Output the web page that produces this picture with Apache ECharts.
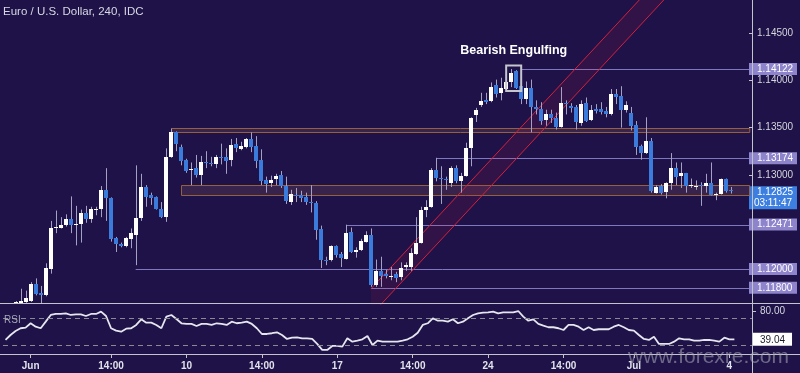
<!DOCTYPE html>
<html><head><meta charset="utf-8">
<script src="https://cdn.jsdelivr.net/npm/echarts@6/dist/echarts.min.js"></script>
<style>html,body{margin:0;padding:0;background:#1e1248;}#c{width:800px;height:373px;}</style>
</head><body><div id="c"></div>
<script>
// ---- data ----
const titleText = 'Euro / U.S. Dollar, 240, IDC';
const annotationText = 'Bearish Engulfing';
const watermarkText = 'www.forexre.com';
const countdown = '03:11:47';

const opens = [1.1158,1.1155,
1.1163,1.1162,1.1165,1.1166,1.1184,1.1174,1.1172,1.1200,1.1244,1.1244,
1.1247,1.1253,1.1247,1.1248,1.1259,1.1253,1.1264,1.1264,1.1284,1.1275,
1.1233,1.1227,1.1224,1.1232,1.1236,1.1254,1.1287,1.1278,1.1276,1.1264,
1.1255,1.1319,1.1345,1.1329,1.1316,1.1305,1.1307,1.1300,1.1314,1.1313,
1.1311,1.1319,1.1319,1.1316,1.1333,1.1327,1.1329,1.1338,1.1330,1.1316,
1.1294,1.1291,1.1296,1.1300,1.1288,1.1271,1.1279,1.1278,1.1276,1.1271,
1.1270,1.1242,1.1210,1.1209,1.1224,1.1216,1.1211,1.1239,1.1218,1.1220,
1.1229,1.1236,1.1183,1.1198,1.1195,1.1193,1.1195,1.1191,1.1202,1.1202,
1.1216,1.1228,1.1263,1.1266,1.1305,1.1297,1.1296,1.1291,1.1307,1.1293,
1.1299,1.1328,1.1363,1.1374,1.1379,1.1378,1.1395,1.1387,1.1391,1.1398,
1.1410,1.1394,1.1380,1.1392,1.1372,1.1370,1.1358,1.1364,1.1360,1.1351,
1.1376,1.1373,1.1372,1.1355,1.1376,1.1358,1.1370,1.1370,1.1368,1.1364,
1.1386,1.1384,1.1369,1.1366,1.1353,1.1330,1.1323,1.1336,1.1281,1.1288,
1.1282,1.1291,1.1307,1.1299,1.1302,1.1289,1.1288,1.1289,1.1288,1.1291,
1.1280,1.1280,1.1295,1.1284];
const closes = [1.1155,1.1160,
1.1165,1.1166,1.1169,1.1184,1.1173,1.1172,1.1201,1.1244,1.1245,1.1247,
1.1253,1.1247,1.1248,1.1259,1.1253,1.1264,1.1264,1.1284,1.1275,1.1232,
1.1226,1.1224,1.1233,1.1238,1.1254,1.1287,1.1276,1.1275,1.1264,1.1255,
1.1319,1.1345,1.1333,1.1315,1.1304,1.1306,1.1300,1.1314,1.1313,1.1311,
1.1319,1.1318,1.1315,1.1332,1.1328,1.1330,1.1338,1.1329,1.1315,1.1293,
1.1290,1.1294,1.1299,1.1288,1.1272,1.1280,1.1277,1.1275,1.1271,1.1270,
1.1241,1.1209,1.1208,1.1224,1.1215,1.1212,1.1238,1.1218,1.1220,1.1230,
1.1236,1.1183,1.1198,1.1193,1.1192,1.1193,1.1190,1.1201,1.1204,1.1217,
1.1228,1.1263,1.1266,1.1305,1.1297,1.1295,1.1294,1.1307,1.1293,1.1299,
1.1328,1.1360,1.1369,1.1378,1.1377,1.1393,1.1386,1.1392,1.1398,1.1408,
1.1392,1.1380,1.1392,1.1372,1.1370,1.1357,1.1364,1.1360,1.1351,1.1376,
1.1375,1.1371,1.1356,1.1375,1.1357,1.1369,1.1368,1.1367,1.1364,1.1386,
1.1383,1.1369,1.1374,1.1352,1.1329,1.1323,1.1336,1.1283,1.1287,1.1281,
1.1291,1.1307,1.1298,1.1302,1.1288,1.1289,1.1288,1.1288,1.1291,1.1279,
1.1280,1.1295,1.1283,1.12825];
const lows = [1.1150,1.1152,
1.1162,1.1161,1.1164,1.1165,1.1172,1.1163,1.1171,1.1195,1.1238,1.1243,
1.1245,1.1238,1.1225,1.1228,1.1249,1.1249,1.1257,1.1255,1.1251,1.1229,
1.1218,1.1223,1.1223,1.1222,1.1204,1.1251,1.1266,1.1268,1.1263,1.1254,
1.1250,1.1318,1.1325,1.1310,1.1302,1.1289,1.1297,1.1289,1.1307,1.1309,
1.1307,1.1311,1.1301,1.1309,1.1324,1.1326,1.1328,1.1324,1.1307,1.1289,
1.1281,1.1287,1.1289,1.1286,1.1269,1.1268,1.1271,1.1271,1.1268,1.1260,
1.1231,1.1201,1.1204,1.1208,1.1212,1.1202,1.1210,1.1217,1.1212,1.1219,
1.1228,1.1181,1.1181,1.1181,1.1190,1.1188,1.1186,1.1188,1.1198,1.1198,
1.1215,1.1227,1.1255,1.1265,1.1293,1.1269,1.1284,1.1287,1.1291,1.1281,
1.1298,1.1309,1.1356,1.1372,1.1375,1.1377,1.1382,1.1379,1.1390,1.1393,
1.1391,1.1375,1.1375,1.1345,1.1364,1.1353,1.1352,1.1355,1.1348,1.1350,
1.1364,1.1366,1.1348,1.1352,1.1356,1.1357,1.1365,1.1364,1.1361,1.1363,
1.1375,1.1350,1.1366,1.1347,1.1321,1.1316,1.1322,1.1281,1.1280,1.1279,
1.1275,1.1284,1.1289,1.1286,1.1281,1.1286,1.1284,1.1267,1.1281,1.1278,
1.1273,1.1279,1.1281,1.1280];
const highs = [1.1161,1.1162,
1.1166,1.1179,1.1177,1.1186,1.1190,1.1182,1.1206,1.1251,1.1262,1.1255,
1.1258,1.1277,1.1267,1.1263,1.1267,1.1266,1.1266,1.1288,1.1307,1.1276,
1.1234,1.1228,1.1234,1.1243,1.1310,1.1301,1.1289,1.1281,1.1277,1.1271,
1.1328,1.1349,1.1346,1.1332,1.1317,1.1313,1.1321,1.1320,1.1325,1.1319,
1.1321,1.1333,1.1328,1.1338,1.1339,1.1335,1.1339,1.1345,1.1341,1.1327,
1.1298,1.1299,1.1301,1.1304,1.1298,1.1284,1.1286,1.1283,1.1281,1.1289,
1.1272,1.1246,1.1213,1.1225,1.1225,1.1218,1.1247,1.1244,1.1223,1.1232,
1.1240,1.1243,1.1210,1.1213,1.1199,1.1202,1.1197,1.1207,1.1207,1.1222,
1.1255,1.1266,1.1273,1.1307,1.1318,1.1309,1.1298,1.1309,1.1310,1.1302,
1.1334,1.1361,1.1371,1.1387,1.1387,1.1398,1.1401,1.1403,1.1401,1.14122,
1.1411,1.1395,1.1399,1.1401,1.1379,1.1377,1.1369,1.1369,1.1366,1.1393,
1.1379,1.1376,1.1374,1.1379,1.1382,1.1374,1.1375,1.1377,1.1372,1.1391,
1.1391,1.1394,1.1378,1.1372,1.1357,1.1332,1.1361,1.1339,1.1289,1.1290,
1.1292,1.1323,1.1313,1.1313,1.1302,1.1296,1.1294,1.1292,1.1301,1.1313,
1.1281,1.1296,1.1296,1.1287];
const rsi = [
38.0,45.4,51.4,55.4,56.3,62.8,57.7,55.4,65.2,75.1,
76.6,76.6,77.6,75.1,76.1,76.1,73.6,76.6,76.6,80.0,
73.6,55.4,51.8,50.3,54.8,55.4,60.3,68.7,63.7,63.7,
60.3,55.4,72.6,75.1,69.2,62.8,61.8,61.8,58.8,61.8,
61.8,60.3,62.8,61.8,60.3,65.2,62.8,63.7,65.2,61.8,
55.4,46.9,46.9,48.0,49.4,45.4,39.5,41.4,42.0,40.5,
40.5,39.5,32.1,23.2,23.2,29.1,29.1,28.1,40.5,35.5,
37.0,39.0,43.9,30.6,37.0,35.5,35.5,35.5,35.5,37.0,
39.0,42.9,48.8,60.3,62.8,70.2,66.6,66.6,65.2,68.7,
62.8,65.2,70.2,75.1,77.6,78.5,79.1,80.0,77.6,79.1,
79.1,79.1,81.0,72.6,66.6,68.7,61.8,59.2,56.9,56.9,
55.4,52.8,60.3,60.3,57.7,52.8,56.9,52.8,53.9,53.9,
53.9,57.7,60.3,56.9,52.8,51.8,45.4,39.5,38.0,42.9,
32.1,32.1,32.1,35.5,40.5,39.0,39.0,37.0,37.0,38.0,
38.0,37.0,35.5,41.4,39.0,39.04];

const barCount = 149;
const categories = Array.from({length: barCount}, (_, i) => 'bar' + i);
const tickIdx = [5, 21, 36, 51, 66, 81, 96, 111, 125, 144];
const tickText = ['Jun', '14:00', '10', '14:00', '17', '14:00', '24', '14:00', 'Jul', '4'];

const priceTicks = [1.130, 1.135, 1.140, 1.145];
const priceMin = 1.11628, priceMax = 1.14855;
const rsiMin = 15.7, rsiMax = 91.4;
const rsiTicks = [80];
const rsiLevels = [70, 30];

const levelStart = [103, 86, 68, 26, 73];
const levelValue = [1.14122, 1.13174, 1.12471, 1.12000, 1.11800];

const zoneStart = [33, 35];
const zoneHigh = [1.1350, 1.1289];
const zoneLow = [1.1345, 1.1279];

const chanIdx = [73, 141];
const chanUpper = [1.1179, 1.1568];
const chanLower = [1.1151, 1.1540];

const engulfIdx = [101, 102];
const engulfTop = 1.1416, engulfBottom = 1.1389;

// ---- styles ----
const BG = '#1e1248', FRAME = '#c4c4cc', UP = '#ffffff', DOWN = '#3b7bdc', WICK = '#a4a1c2';
const LEVEL = '#8078bf', LEVELBOX = '#8e84cc', CUR = '#3d7fe0';

const lastPrice = closes[closes.length - 1];
const lastRsi = rsi[rsi.length - 1];
const tickSet = new Set(tickIdx);
const candleData = opens.map((o, i) => [i, o, closes[i], lows[i], highs[i]]);

function renderCandle(params, api) {
  const cs = params.coordSys;
  const top = cs.y, bot = cs.y + cs.height;
  const cl = v => Math.min(bot, Math.max(top, v));
  const k = api.value(0), o = api.value(1), c = api.value(2), l = api.value(3), h = api.value(4);
  const pO = api.coord([k, o]), pC = api.coord([k, c]);
  const pL = api.coord([k, l])[1], pH = api.coord([k, h])[1];
  if (pH >= bot || pL <= top) return null;
  const xr = Math.round(pO[0]);
  const y1 = Math.round(cl(Math.min(pO[1], pC[1])));
  const y2 = Math.round(cl(Math.max(pO[1], pC[1])));
  return {type: 'group', children: [
    {type: 'line', shape: {x1: xr + 0.5, y1: cl(pH), x2: xr + 0.5, y2: cl(pL)}, style: {stroke: WICK, lineWidth: 1}},
    {type: 'rect', shape: {x: xr - 2, y: y1, width: 4, height: Math.max(1, y2 - y1)}, style: {fill: c >= o ? UP : DOWN}}
  ]};
}

function renderLevel(params, api) {
  const cs = params.coordSys;
  const p = api.coord([api.value(0), api.value(1)]);
  const y = Math.round(p[1]) + 0.5;
  return {type: 'line', shape: {x1: p[0], y1: y, x2: cs.x + cs.width, y2: y}, style: {stroke: LEVEL, lineWidth: 1}};
}

function renderZone(params, api) {
  const cs = params.coordSys;
  const a = api.coord([api.value(0), api.value(1)]);
  const b = api.coord([api.value(0), api.value(2)]);
  return {type: 'rect', shape: {x: Math.round(a[0]) + 0.5, y: Math.round(a[1]) + 0.5, width: cs.x + cs.width - a[0], height: Math.round(b[1]) - Math.round(a[1])},
    style: {fill: 'rgba(125,80,85,0.28)', stroke: '#95603f', lineWidth: 1}};
}

function renderEngulf(params, api) {
  const a = api.coord([api.value(0), api.value(2)]);
  const b = api.coord([api.value(1), api.value(3)]);
  const w = api.size([1, 0])[0];
  return {type: 'group', children: [
    {type: 'rect', shape: {x: a[0] - w, y: a[1], width: b[0] - a[0] + 2 * w, height: b[1] - a[1]},
      style: {fill: 'rgba(0,0,0,0)', stroke: '#c6c6ce', lineWidth: 2}},
    {type: 'text', x: (a[0] + b[0]) / 2, y: a[1] - 15,
      style: {text: annotationText, fill: '#ffffff', font: 'bold 12.5px "Liberation Sans", Arial, sans-serif', align: 'center', verticalAlign: 'middle'}}
  ]};
}

const chart = echarts.init(document.getElementById('c'), null, {renderer: 'canvas'});
chart.setOption({
  animation: false,
  backgroundColor: BG,
  textStyle: {fontFamily: '"Liberation Sans", Arial, sans-serif'},
  title: [
    {text: titleText, left: 3, top: 6, padding: 0, textStyle: {color: '#d8d8e2', fontSize: 11.5, fontWeight: 'normal'}},
    {text: 'RSI', left: 4, top: 315, padding: 0, textStyle: {color: '#a6a6b8', fontSize: 10, fontWeight: 'normal'}}
  ],
  grid: [
    {left: 3, right: 48, top: 0, height: 304},
    {left: 3, right: 48, top: 304, height: 51}
  ],
  xAxis: [
    {type: 'category', gridIndex: 0, data: categories, axisLine: {show: false}, axisTick: {show: false}, axisLabel: {show: false}, splitLine: {show: false}},
    {type: 'category', gridIndex: 1, data: categories, axisLine: {show: false},
      axisTick: {show: true, alignWithLabel: true, length: 3, interval: (i) => tickSet.has(i), lineStyle: {color: FRAME}},
      axisLabel: {interval: (i) => tickSet.has(i), formatter: (v, i) => tickText[tickIdx.indexOf(i)] || '',
        color: '#e2e2ea', fontSize: 10, fontWeight: 'bold', margin: 6},
      splitLine: {show: false}}
  ],
  yAxis: [
    {type: 'value', gridIndex: 0, position: 'right', min: priceMin, max: priceMax, splitLine: {show: false},
      axisLine: {show: false},
      axisTick: {show: true, customValues: priceTicks, length: 4, lineStyle: {color: FRAME}},
      axisLabel: {customValues: priceTicks.concat(levelValue, [lastPrice]), margin: 0,
        formatter: (v) => {
          const s = v.toFixed(5);
          if (s === lastPrice.toFixed(5)) return '{sp| }\n{cur|' + s + '}\n{tm|' + countdown + '}';
          if (levelValue.some(l => l.toFixed(5) === s)) return '{lv|' + s + '}';
          return '{n|' + s + '}';
        },
        rich: {
          n: {color: '#d6d6de', fontSize: 10, padding: [0, 0, 0, 8]},
          lv: {color: '#ffffff', fontSize: 10, backgroundColor: LEVELBOX, lineHeight: 11, width: 36, padding: [1, 4, 1, 8]},
          sp: {fontSize: 10, lineHeight: 13},
          cur: {color: '#ffffff', fontSize: 10, backgroundColor: CUR, lineHeight: 11, width: 36, padding: [1, 4, 1, 8]},
          tm: {color: '#ffffff', fontSize: 10, backgroundColor: CUR, lineHeight: 11, width: 44, align: 'center', padding: [1, 2, 1, 2]}
        }}},
    {type: 'value', gridIndex: 1, position: 'right', min: rsiMin, max: rsiMax, splitLine: {show: false},
      axisLine: {show: false},
      axisTick: {show: true, customValues: rsiTicks, length: 4, lineStyle: {color: FRAME}},
      axisLabel: {customValues: rsiTicks.concat([lastRsi]), margin: 0,
        formatter: (v) => v === lastRsi ? '{w|' + v.toFixed(2) + '}' : '{n|' + v.toFixed(2) + '}',
        rich: {
          n: {color: '#d6d6de', fontSize: 10, padding: [0, 0, 0, 8]},
          w: {color: '#1a1a2a', fontSize: 10, backgroundColor: '#ffffff', lineHeight: 11, padding: [2, 7, 1, 8]}
        }}}
  ],
  series: [
    {type: 'custom', name: 'zones', xAxisIndex: 0, yAxisIndex: 0, z: 1, silent: true,
      data: zoneStart.map((k, i) => [k, zoneHigh[i], zoneLow[i]]), encode: {x: 0, y: [1, 2]}, renderItem: renderZone},
    {type: 'custom', name: 'levels', xAxisIndex: 0, yAxisIndex: 0, z: 2, silent: true,
      data: levelStart.map((k, i) => [k, levelValue[i]]), encode: {x: 0, y: 1}, renderItem: renderLevel},
    {type: 'line', name: 'chanLow', xAxisIndex: 0, yAxisIndex: 0, z: 3, stack: 'chan', silent: true, symbol: 'none',
      data: chanIdx.map((k, i) => [k, chanLower[i]]), lineStyle: {color: '#d3223c', width: 1}},
    {type: 'line', name: 'chanHigh', xAxisIndex: 0, yAxisIndex: 0, z: 3, stack: 'chan', silent: true, symbol: 'none',
      data: chanIdx.map((k, i) => [k, chanUpper[i] - chanLower[i]]), lineStyle: {color: '#d3223c', width: 1},
      areaStyle: {color: 'rgba(200,30,70,0.17)'}},
    {type: 'custom', name: 'candles', xAxisIndex: 0, yAxisIndex: 0, z: 5, silent: true,
      data: candleData, encode: {x: 0, y: [1, 2, 3, 4]}, renderItem: renderCandle},
    {type: 'custom', name: 'engulfing', xAxisIndex: 0, yAxisIndex: 0, z: 6, silent: true,
      data: [[engulfIdx[0], engulfIdx[1], engulfTop, engulfBottom]], encode: {x: [0, 1], y: [2, 3]}, renderItem: renderEngulf},
    {type: 'line', name: 'RSI', xAxisIndex: 1, yAxisIndex: 1, z: 4, silent: true, symbol: 'none',
      data: rsi, lineStyle: {color: '#e6e6ee', width: 1.8},
      markLine: {silent: true, symbol: ['none', 'none'], label: {show: false},
        lineStyle: {type: [5, 4], color: '#8a8a92', width: 1},
        data: rsiLevels.map(v => ({yAxis: v}))}}
  ],
  graphic: [
    {type: 'line', silent: true, z: 10, shape: {x1: 0, y1: 303.5, x2: 800, y2: 303.5}, style: {stroke: FRAME, lineWidth: 1}},
    {type: 'line', silent: true, z: 10, shape: {x1: 0, y1: 354.5, x2: 800, y2: 354.5}, style: {stroke: FRAME, lineWidth: 1}},
    {type: 'line', silent: true, z: 10, shape: {x1: 752.5, y1: 0, x2: 752.5, y2: 373}, style: {stroke: FRAME, lineWidth: 1}},
    {type: 'text', silent: true, z: 20, left: 628, top: 347,
      style: {text: watermarkText, fill: 'rgba(175,175,188,0.55)', font: '21px "Liberation Sans", Arial, sans-serif'}}
  ]
});
</script>
</body></html>
